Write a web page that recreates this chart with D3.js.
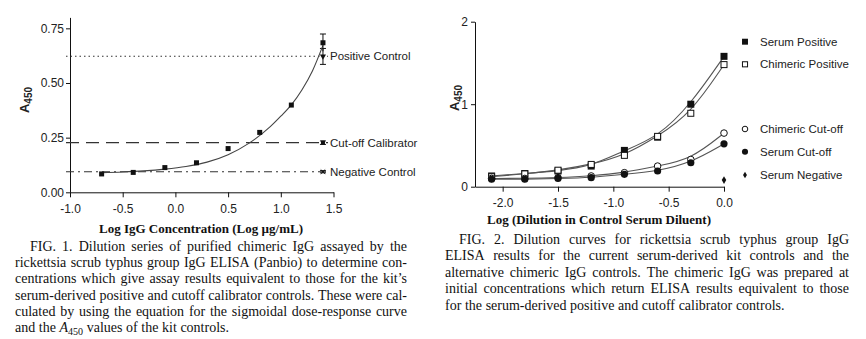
<!DOCTYPE html>
<html><head><meta charset="utf-8">
<script src="https://cdn.jsdelivr.net/npm/d3@7"></script>
<style>
body{margin:0;background:#fff;}
svg{display:block;}
.ax text{font-family:"Liberation Sans",Arial,sans-serif;font-size:12px;fill:#222;}
.ax path,.ax line{stroke:#111;stroke-width:1;}
</style></head><body>
<svg id="c" width="866" height="339"></svg>
<script>
// ---------- FIG 1 data ----------
const fig1X = [-0.7, -0.4, -0.1, 0.2, 0.5, 0.8, 1.1, 1.4];
const fig1Y = [0.084, 0.091, 0.113, 0.135, 0.200, 0.274, 0.399, 0.684];
const fig1ErrLow = [null, null, null, null, null, null, null, 0.645];
const fig1ErrHigh = [null, null, null, null, null, null, null, 0.724];
const fig1FitX = [-0.7, -0.5, -0.3, -0.1, 0.1, 0.3, 0.5, 0.7, 0.9, 1.0, 1.1, 1.2, 1.3, 1.4];
const fig1FitY = [0.090, 0.093, 0.098, 0.106, 0.118, 0.138, 0.172, 0.225, 0.300, 0.348, 0.400, 0.468, 0.555, 0.672];
const controlNames = ["Positive Control", "Cut-off Calibrator", "Negative Control"];
const controlValues = [0.622, 0.227, 0.094];
const controlErrLow = [0.585, 0.219, 0.089];
const controlErrHigh = [0.658, 0.235, 0.099];
const controlX = 1.4;
const fig1XTicks = [-1.0, -0.5, 0.0, 0.5, 1.0, 1.5];
const fig1XTickLabels = ["-1.0", "-0.5", "0.0", "0.5", "1.0", "1.5"];
const fig1YTicks = [0, 0.25, 0.5, 0.75];
const fig1YTickLabels = ["0.00", "0.25", "0.50", "0.75"];
const fig1XTitle = "Log IgG Concentration (Log µg/mL)";

// ---------- FIG 2 data ----------
const fig2X = [-2.1, -1.8, -1.5, -1.2, -0.9, -0.6, -0.3, 0.0];
const serumPositive = [0.13, 0.16, 0.19, 0.25, 0.44, 0.60, 1.00, 1.58];
const chimericPositive = [0.12, 0.155, 0.20, 0.27, 0.38, 0.61, 0.89, 1.48];
const chimericCutoff = [0.10, 0.10, 0.11, 0.13, 0.17, 0.25, 0.33, 0.65];
const serumCutoff = [0.09, 0.09, 0.10, 0.11, 0.15, 0.19, 0.29, 0.52];
const serumNegativeX = [0.0];
const serumNegative = [0.08];
const fig2XTicks = [-2.0, -1.5, -1.0, -0.5, 0.0];
const fig2XTickLabels = ["-2.0", "-1.5", "-1.0", "-0.5", "0.0"];
const fig2YTicks = [0, 1, 2];
const fig2YTickLabels = ["0", "1", "2"];
const fig2XTitle = "Log (Dilution in Control Serum Diluent)";
const legend2Names = ["Serum Positive", "Chimeric Positive", "Chimeric Cut-off", "Serum Cut-off", "Serum Negative"];

// ---------- captions ----------
const caption1 = [
  "FIG. 1. Dilution series of purified chimeric IgG assayed by the",
  "rickettsia scrub typhus group IgG ELISA (Panbio) to determine con-",
  "centrations which give assay results equivalent to those for the kit’s",
  "serum-derived positive and cutoff calibrator controls. These were cal-",
  "culated by using the equation for the sigmoidal dose-response curve",
  "and the A450 values of the kit controls."
];
const caption2 = [
  "FIG. 2. Dilution curves for rickettsia scrub typhus group IgG",
  "ELISA results for the current serum-derived kit controls and the",
  "alternative chimeric IgG controls. The chimeric IgG was prepared at",
  "initial concentrations which return ELISA results equivalent to those",
  "for the serum-derived positive and cutoff calibrator controls."
];

const svg = d3.select("#c");
const SANS = '"Liberation Sans",Arial,sans-serif';
const SERIF = '"Liberation Serif","Times New Roman",serif';

// ================= FIG 1 =================
const x1 = d3.scaleLinear().domain([-1, 1.5]).range([70, 333.5]);
const y1 = d3.scaleLinear().domain([0, 0.8]).range([192.3, 17.4]);
const g1 = svg.append("g");

g1.append("g").attr("class", "ax").attr("transform", "translate(0,192.3)")
  .call(d3.axisBottom(x1).tickValues(fig1XTicks).tickSize(5).tickSizeOuter(0)
    .tickFormat((d, i) => fig1XTickLabels[i]))
  .selectAll("text").attr("dy", "1.05em");
g1.append("g").attr("class", "ax").attr("transform", "translate(70,0)")
  .call(d3.axisLeft(y1).tickValues(fig1YTicks).tickSize(4).tickSizeOuter(0)
    .tickFormat((d, i) => fig1YTickLabels[i]))
  .selectAll("text").attr("x", -6);

// control reference lines
const dashes = ["1.5,3", "13,7", "8,4,2,4"];
controlValues.forEach((v, i) => {
  g1.append("line").attr("x1", 66).attr("x2", 328)
    .attr("y1", y1(v)).attr("y2", y1(v))
    .attr("stroke", "#333").attr("stroke-width", 1.1)
    .attr("stroke-dasharray", dashes[i]);
  // error bar
  const cx = x1(controlX);
  g1.append("line").attr("x1", cx).attr("x2", cx).attr("y1", y1(controlErrLow[i])).attr("y2", y1(controlErrHigh[i]))
    .attr("stroke", "#111");
  [controlErrLow[i], controlErrHigh[i]].forEach(e => {
    g1.append("line").attr("x1", cx - 3).attr("x2", cx + 3).attr("y1", y1(e)).attr("y2", y1(e)).attr("stroke", "#111");
  });
  const sym = [d3.symbolTriangle, d3.symbolSquare, d3.symbolTimes][i];
  const p = g1.append("path").attr("d", d3.symbol().type(sym).size(i === 2 ? 14 : 16)())
    .attr("transform", `translate(${cx},${y1(v)})` + (i === 0 ? " rotate(180)" : ""))
    .attr("fill", "#111").attr("stroke", i === 2 ? "#111" : "none");
  g1.append("text").attr("x", 330).attr("y", y1(v)).attr("dy", "0.36em")
    .attr("font-family", SANS).attr("font-size", 11.5).attr("fill", "#222")
    .text(controlNames[i]);
});

// fit curve
const fit1 = fig1FitX.map((d, i) => [d, fig1FitY[i]]);
g1.append("path").datum(fit1)
  .attr("d", d3.line().x(d => x1(d[0])).y(d => y1(d[1])).curve(d3.curveMonotoneX))
  .attr("fill", "none").attr("stroke", "#444").attr("stroke-width", 1.1);

// error bars for data
fig1X.forEach((d, i) => {
  if (fig1ErrLow[i] == null) return;
  const cx = x1(d);
  g1.append("line").attr("x1", cx).attr("x2", cx).attr("y1", y1(fig1ErrLow[i])).attr("y2", y1(fig1ErrHigh[i])).attr("stroke", "#111");
  g1.append("line").attr("x1", cx - 3).attr("x2", cx + 3).attr("y1", y1(fig1ErrHigh[i])).attr("y2", y1(fig1ErrHigh[i])).attr("stroke", "#111");
});
// points
g1.selectAll("rect.pt").data(fig1X).join("rect").attr("class", "pt")
  .attr("x", d => x1(d) - 2.5).attr("y", (d, i) => y1(fig1Y[i]) - 2.5)
  .attr("width", 5).attr("height", 5).attr("fill", "#111");

// axis titles
const yl1 = g1.append("text").attr("transform", "translate(29,100) rotate(-90)")
  .attr("text-anchor", "middle").attr("font-family", SANS).attr("font-size", 13)
  .attr("font-weight", "bold").attr("fill", "#222");
yl1.append("tspan").text("A");
yl1.append("tspan").attr("dy", 3).attr("font-size", 10).text("450");
g1.append("text").attr("x", 201).attr("y", 233).attr("text-anchor", "middle")
  .attr("font-family", SERIF).attr("font-size", 13).attr("font-weight", "bold").attr("fill", "#111")
  .text(fig1XTitle);

// ================= FIG 2 =================
const x2 = d3.scaleLinear().domain([-2.25, 0]).range([475, 724]);
const y2 = d3.scaleLinear().domain([0, 2]).range([186.7, 21.7]);
const g2 = svg.append("g");
g2.append("g").attr("class", "ax").attr("transform", "translate(0,186.7)")
  .call(d3.axisBottom(x2).tickValues(fig2XTicks).tickSize(5).tickSizeOuter(0)
    .tickFormat((d, i) => fig2XTickLabels[i]))
  .selectAll("text").attr("dy", "1.05em");
g2.append("g").attr("class", "ax").attr("transform", "translate(475,0)")
  .call(d3.axisLeft(y2).tickValues(fig2YTicks).tickSize(4).tickSizeOuter(0)
    .tickFormat((d, i) => fig2YTickLabels[i]))
  .selectAll("text").attr("x", -7);

const series2 = [
  {name: legend2Names[0], y: serumPositive, kind: "sqFill"},
  {name: legend2Names[1], y: chimericPositive, kind: "sqOpen"},
  {name: legend2Names[2], y: chimericCutoff, kind: "cirOpen"},
  {name: legend2Names[3], y: serumCutoff, kind: "cirFill"}
];
const line2 = d3.line().x(d => x2(d[0])).y(d => y2(d[1])).curve(d3.curveBasis);
series2.forEach(s => {
  g2.append("path").datum(fig2X.map((d, i) => [d, s.y[i]]))
    .attr("d", line2).attr("fill", "none").attr("stroke", "#555").attr("stroke-width", 1.1);
});
function marker(g, kind, cx, cy, scale) {
  scale = scale || 1;
  if (kind === "sqFill") return g.append("rect").attr("x", cx - 3.5 * scale).attr("y", cy - 3.5 * scale)
    .attr("width", 7 * scale).attr("height", 7 * scale).attr("fill", "#111");
  if (kind === "sqOpen") return g.append("rect").attr("x", cx - 3 * scale).attr("y", cy - 3 * scale)
    .attr("width", 6 * scale).attr("height", 6 * scale).attr("fill", "#fff").attr("stroke", "#111").attr("stroke-width", 1);
  if (kind === "cirOpen") return g.append("circle").attr("cx", cx).attr("cy", cy).attr("r", 3.3 * scale)
    .attr("fill", "#fff").attr("stroke", "#111").attr("stroke-width", 1);
  if (kind === "cirFill") return g.append("circle").attr("cx", cx).attr("cy", cy).attr("r", 3.6 * scale).attr("fill", "#111");
  if (kind === "diamond") return g.append("path").attr("d", d3.symbol().type(d3.symbolDiamond).size(18 * scale * scale)())
    .attr("transform", `translate(${cx},${cy})`).attr("fill", "#111");
}
series2.forEach(s => {
  fig2X.forEach((d, i) => marker(g2, s.kind, x2(d), y2(s.y[i])));
});
serumNegativeX.forEach((d, i) => marker(g2, "diamond", x2(d), y2(serumNegative[i])));

// legend
const legKinds = ["sqFill", "sqOpen", "cirOpen", "cirFill", "diamond"];
const legY = [41.7, 64.3, 129, 151.7, 175];
legend2Names.forEach((n, i) => {
  marker(g2, legKinds[i], 745, legY[i], 0.85);
  g2.append("text").attr("x", 760).attr("y", legY[i]).attr("dy", "0.36em")
    .attr("font-family", SANS).attr("font-size", 11.5).attr("fill", "#222").text(n);
});

const yl2 = g2.append("text").attr("transform", "translate(459,98) rotate(-90)")
  .attr("text-anchor", "middle").attr("font-family", SANS).attr("font-size", 13)
  .attr("font-weight", "bold").attr("fill", "#222");
yl2.append("tspan").text("A");
yl2.append("tspan").attr("dy", 3).attr("font-size", 10).text("450");
g2.append("text").attr("x", 599).attr("y", 224).attr("text-anchor", "middle")
  .attr("font-family", SERIF).attr("font-size", 13).attr("font-weight", "bold").attr("fill", "#111")
  .text(fig2XTitle);

// ================= captions =================
function caption(lines, left, right, indent, y0, lh) {
  const g = svg.append("g").attr("font-family", SERIF).attr("font-size", 14).attr("fill", "#111");
  lines.forEach((ln, li) => {
    const y = y0 + li * lh;
    const x0 = left + (li === 0 ? indent : 0);
    const words = ln.split(" ");
    const nodes = words.map(w => {
      const t = g.append("text").attr("y", y);
      if (w === "A450") {
        t.append("tspan").attr("font-style", "italic").text("A");
        t.append("tspan").attr("font-size", 10).attr("dy", 3).text("450");
      } else t.text(w);
      return t;
    });
    const widths = nodes.map(n => n.node().getComputedTextLength());
    const total = d3.sum(widths);
    const last = li === lines.length - 1;
    const gap = last ? 3.6 : (right - x0 - total) / (words.length - 1);
    let x = x0;
    nodes.forEach((n, i) => { n.attr("x", x); x += widths[i] + gap; });
  });
}
caption(caption1, 15, 407, 15, 251, 16.2);
caption(caption2, 445, 849, 14, 244, 16.4);
</script>
</body></html>
